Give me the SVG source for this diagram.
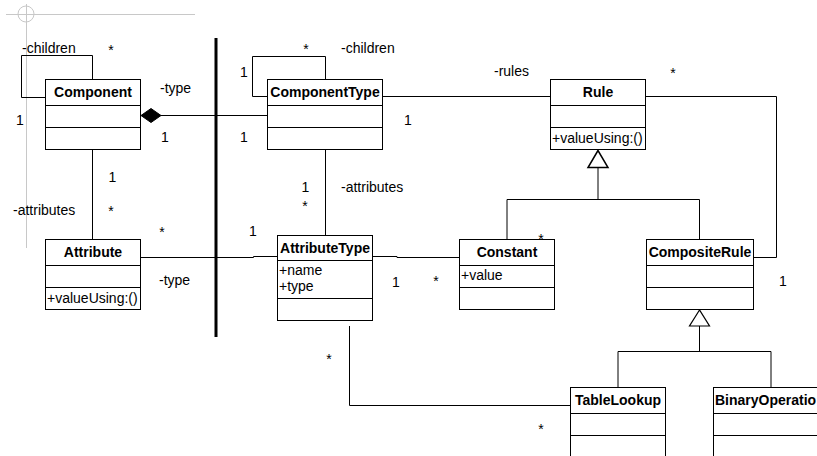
<svg xmlns="http://www.w3.org/2000/svg" width="817" height="456" viewBox="0 0 817 456">
<style>
text{font-family:"Liberation Sans",Arial,sans-serif;font-size:14px;fill:#000}
.t{font-weight:bold;text-anchor:middle}
.c{text-anchor:middle}
.box{fill:#fff;stroke:#000;stroke-width:1}
.ln{fill:none;stroke:#000;stroke-width:1}
.gl{fill:none;stroke:#000;stroke-width:1}
.guide{fill:none;stroke:#c8c8c8;stroke-width:1}
</style>
<rect width="817" height="456" fill="#fff"/>
<g id="guides">
<line class="guide" x1="6" y1="14.5" x2="195" y2="14.5"/>
<line class="guide" x1="26.5" y1="4" x2="26.5" y2="248"/>
<circle class="guide" cx="26" cy="14" r="8"/>
<line x1="216" y1="38" x2="216" y2="337" stroke="#000" stroke-width="3"/>
</g>
<g id="connectors">
<polyline class="ln" points="45,97.5 21.5,97.5 21.5,55.5 92.5,55.5 92.5,79"/>
<line class="ln" x1="161" y1="115.5" x2="267" y2="115.5" stroke="#555"/>
<polygon points="141,115.5 151,108.5 161,115.5 151,122.5" fill="#000" stroke="#000"/>
<polyline class="ln" points="267,96.5 252.5,96.5 252.5,56.5 325.5,56.5 325.5,79"/>
<line class="ln" x1="383" y1="96.5" x2="550" y2="96.5"/>
<polyline class="ln" points="646,96.5 776.5,96.5 776.5,257.5 754,257.5"/>
<polygon points="598,150.5 588,167.5 608,167.5" fill="#fff" stroke="#000" stroke-width="1.5"/>
<line class="gl" x1="598" y1="167.5" x2="598" y2="199.5" stroke-width="1.5"/>
<polyline class="ln" points="507,240 507,199.5 699.5,199.5 699.5,239"/>
<line class="ln" x1="92.5" y1="149" x2="92.5" y2="239"/>
<line class="ln" x1="325.5" y1="149" x2="325.5" y2="235"/>
<polyline class="ln" points="141,257.5 253.5,257.5 253.5,256.5 277,256.5"/>
<polyline class="ln" points="373,256.5 397,256.5 397,257.5 459,257.5"/>
<polyline class="ln" points="349.5,326 349.5,405.5 570,405.5" stroke="#444"/>
<polygon points="699.5,310 689.5,326 709.5,326" fill="#fff" stroke="#000" stroke-width="1.2"/>
<line class="ln" x1="699.5" y1="326" x2="699.5" y2="351.5"/>
<polyline class="ln" points="618,387 618,351.5 771,351.5 771,387"/>
</g>
<g id="labels">
<text x="22" y="53">-children</text>
<text class="c" x="111" y="55">*</text>
<text x="160" y="93">-type</text>
<text x="16" y="125">1</text>
<text x="161" y="141.5">1</text>
<text x="240" y="141.5">1</text>
<text x="240" y="76.5">1</text>
<text class="c" x="306" y="54">*</text>
<text x="341" y="53">-children</text>
<text x="404" y="125">1</text>
<text x="494" y="76">-rules</text>
<text class="c" x="673" y="78">*</text>
<text x="301.5" y="191.5">1</text>
<text x="341" y="191.5">-attributes</text>
<text class="c" x="305" y="211">*</text>
<text x="108.5" y="181.5">1</text>
<text class="c" x="111" y="216">*</text>
<text x="13" y="215">-attributes</text>
<text class="c" x="162" y="236.5">*</text>
<text x="249" y="235.5">1</text>
<text x="159" y="285">-type</text>
<text x="392" y="286.5">1</text>
<text class="c" x="436" y="286">*</text>
<text class="c" x="541" y="244">*</text>
<text x="779" y="286">1</text>
<text class="c" x="329" y="363.5">*</text>
<text class="c" x="541" y="433.5">*</text>
</g>
<g id="Component">
<rect class="box" x="45.5" y="79.5" width="95" height="70"/>
<line class="ln" x1="45.5" y1="105.5" x2="140.5" y2="105.5"/>
<line class="ln" x1="45.5" y1="127.5" x2="140.5" y2="127.5"/>
<text class="t" x="93" y="97">Component</text>
</g>
<g id="ComponentType">
<rect class="box" x="267.5" y="79.5" width="115" height="70"/>
<line class="ln" x1="267.5" y1="105.5" x2="382.5" y2="105.5"/>
<line class="ln" x1="267.5" y1="127.5" x2="382.5" y2="127.5"/>
<text class="t" x="325" y="97">ComponentType</text>
</g>
<g id="Rule">
<rect class="box" x="550.5" y="79.5" width="95" height="70"/>
<line class="ln" x1="550.5" y1="105.5" x2="645.5" y2="105.5"/>
<line class="ln" x1="550.5" y1="127.5" x2="645.5" y2="127.5"/>
<text class="t" x="598" y="97">Rule</text>
<text x="552" y="143">+valueUsing:()</text>
</g>
<g id="Attribute">
<rect class="box" x="45.5" y="239.5" width="95" height="70"/>
<line class="ln" x1="45.5" y1="265.5" x2="140.5" y2="265.5"/>
<line class="ln" x1="45.5" y1="287.5" x2="140.5" y2="287.5"/>
<text class="t" x="93" y="257">Attribute</text>
<text x="47" y="303">+valueUsing:()</text>
</g>
<g id="AttributeType">
<rect class="box" x="277.5" y="235.5" width="95" height="85"/>
<line class="ln" x1="277.5" y1="260.5" x2="372.5" y2="260.5"/>
<line class="ln" x1="277.5" y1="298.5" x2="372.5" y2="298.5"/>
<text class="t" x="325" y="253">AttributeType</text>
<text x="279" y="275">+name</text>
<text x="279" y="291">+type</text>
</g>
<g id="Constant">
<rect class="box" x="459.5" y="239.5" width="95" height="70"/>
<line class="ln" x1="459.5" y1="265.5" x2="554.5" y2="265.5"/>
<line class="ln" x1="459.5" y1="287.5" x2="554.5" y2="287.5"/>
<text class="t" x="507" y="257">Constant</text>
<text x="461" y="280">+value</text>
</g>
<g id="CompositeRule">
<rect class="box" x="646.5" y="239.5" width="107" height="70"/>
<line class="ln" x1="646.5" y1="265.5" x2="753.5" y2="265.5"/>
<line class="ln" x1="646.5" y1="287.5" x2="753.5" y2="287.5"/>
<text class="t" x="700" y="257">CompositeRule</text>
</g>
<g id="TableLookup">
<rect class="box" x="570.5" y="387.5" width="95" height="72"/>
<line class="ln" x1="570.5" y1="413.5" x2="665.5" y2="413.5"/>
<line class="ln" x1="570.5" y1="435.5" x2="665.5" y2="435.5"/>
<text class="t" x="618" y="405">TableLookup</text>
</g>
<g id="BinaryOperation">
<rect class="box" x="713.5" y="387.5" width="120" height="72"/>
<line class="ln" x1="713.5" y1="413.5" x2="833.5" y2="413.5"/>
<line class="ln" x1="713.5" y1="435.5" x2="833.5" y2="435.5"/>
<text x="715" y="405" font-weight="bold">BinaryOperatio</text>
</g>
</svg>
